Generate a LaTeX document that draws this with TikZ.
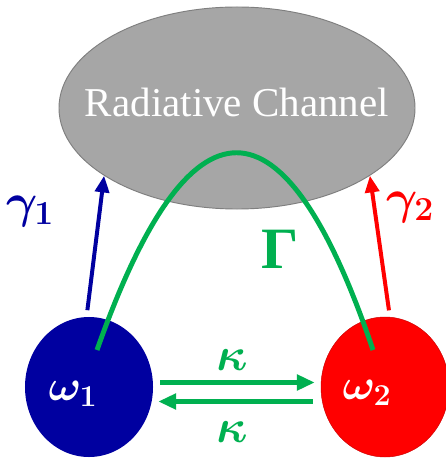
\RequirePackage{fix-cm}
\documentclass[tikz,border=0pt]{standalone}
\usepackage{amsmath,bm}
\usepackage[no-math]{fontspec}
\setmainfont{Liberation Serif}
\usetikzlibrary{arrows.meta,positioning,calc,shapes.geometric}
\definecolor{chgray}{HTML}{A6A6A6}
\definecolor{chedge}{HTML}{7F7F7F}
\definecolor{modeblue}{HTML}{0000A0}
\definecolor{modered}{HTML}{FF0000}
\definecolor{cplgreen}{HTML}{00B050}

\begin{document}
\begin{tikzpicture}[
    x=0.03cm, y=-0.03cm,
    chan/.style={ellipse, draw=chedge, fill=chgray, line width=0.8pt, minimum width=10.68cm, minimum height=6.06cm, inner sep=0pt},
    mode/.style={ellipse, minimum width=3.84cm, minimum height=4.2cm, inner sep=0pt},
    wlbl/.style={text=white, inner sep=0pt, font=\fontsize{37}{44}\selectfont},
    glbl/.style={inner sep=0pt, font=\fontsize{41}{48}\selectfont},
    klbl/.style={text=cplgreen, inner sep=0pt, font=\fontsize{40}{46}\selectfont},
    decay/.style={-{Triangle[length=5mm,width=4.2mm]}, line width=3.4pt},
    hop/.style={-{Triangle[length=5.4mm,width=4.6mm]}, line width=4.2pt, draw=cplgreen},
]
\useasboundingbox (0,0) rectangle (445,458);

% radiative channel
\node[chan] (chan) at (237,108) {};
\node[text=white, font=\fontsize{35}{42}\selectfont] (chanlbl) at ($(chan)+(0,-6)$) {Radiative Channel};

% the two modes
\node[mode, fill=modeblue] (w1) at (89,387) {};
\node[mode, fill=modered, draw=modered!80!black, line width=0.4pt] (w2) at (385,387) {};
\node[wlbl] (w1lbl) at ($(w1)+(-16,7)$) {$\bm{\omega_1}$};
\node[wlbl] (w2lbl) at ($(w2)+(-18,6)$) {$\bm{\omega_2}$};

% decay into the channel
\draw[decay, modeblue, shorten <=0.2cm] (w1.92) -- (chan.207);
\draw[decay, modered, shorten <=0.2cm] (w2.86) -- (chan.333);
\node[glbl, text=modeblue] (g1) at (30,211) {$\bm{\gamma_1}$};
\node[glbl, text=modered] (g2) at (410,207) {$\bm{\gamma_2}$};

% coupling through the channel
\draw[cplgreen, line width=4.2pt] ($(w1)+(8,-37)$) .. controls (190,87) and (284,87) .. ($(w2)+(-12,-37)$);
\node[text=cplgreen, inner sep=0pt, font=\fontsize{50}{56}\selectfont\bfseries] (gam) at (280,249) {Γ};

% direct coupling
\draw[hop] ($(w1.east)+(7,-4.5)$) -- ($(w2.west)+(-6,-4.5)$);
\draw[hop] ($(w2.west)+(-8,14.5)$) -- ($(w1.east)+(5,14.5)$);
\node[klbl] (k12) at (232,360) {$\bm{\kappa}$};
\node[klbl] (k21) at (232,432) {$\bm{\kappa}$};
\end{tikzpicture}
\end{document}
